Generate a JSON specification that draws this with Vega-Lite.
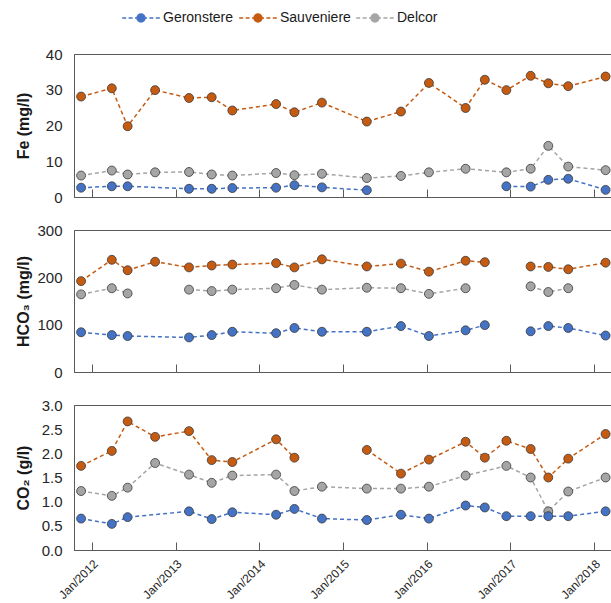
{
  "$schema": "https://vega.github.io/schema/vega-lite/v6.json",
  "padding": {"left": 14, "top": 10, "right": 0, "bottom": 0},
  "config": {
    "font": "Liberation Sans",
    "view": {"stroke": "#595959", "strokeWidth": 1},
    "axis": {"grid": false, "domainColor": "#595959", "tickColor": "#595959", "labelColor": "#262626", "titleColor": "#1a1a1a", "labelFont": "Liberation Sans", "titleFont": "Liberation Sans"}
  },
  "datasets": {
    "obs": [
      {"date": "2011-11-15", "series": "Sauveniere", "param": "Fe", "value": 28.1},
      {"date": "2012-03-28", "series": "Sauveniere", "param": "Fe", "value": 30.4},
      {"date": "2012-06-05", "series": "Sauveniere", "param": "Fe", "value": 19.8},
      {"date": "2012-10-03", "series": "Sauveniere", "param": "Fe", "value": 29.9},
      {"date": "2013-02-28", "series": "Sauveniere", "param": "Fe", "value": 27.7},
      {"date": "2013-06-07", "series": "Sauveniere", "param": "Fe", "value": 27.9},
      {"date": "2013-09-05", "series": "Sauveniere", "param": "Fe", "value": 24.2},
      {"date": "2014-03-15", "series": "Sauveniere", "param": "Fe", "value": 26.0},
      {"date": "2014-06-03", "series": "Sauveniere", "param": "Fe", "value": 23.7},
      {"date": "2014-10-01", "series": "Sauveniere", "param": "Fe", "value": 26.4},
      {"date": "2015-04-15", "series": "Sauveniere", "param": "Fe", "value": 21.1},
      {"date": "2015-09-11", "series": "Sauveniere", "param": "Fe", "value": 23.9},
      {"date": "2016-01-11", "series": "Sauveniere", "param": "Fe", "value": 31.9},
      {"date": "2016-06-19", "series": "Sauveniere", "param": "Fe", "value": 24.9},
      {"date": "2016-09-11", "series": "Sauveniere", "param": "Fe", "value": 32.8},
      {"date": "2016-12-14", "series": "Sauveniere", "param": "Fe", "value": 29.9},
      {"date": "2017-03-30", "series": "Sauveniere", "param": "Fe", "value": 33.9},
      {"date": "2017-06-15", "series": "Sauveniere", "param": "Fe", "value": 31.8},
      {"date": "2017-09-10", "series": "Sauveniere", "param": "Fe", "value": 31.0},
      {"date": "2018-02-20", "series": "Sauveniere", "param": "Fe", "value": 33.7},

      {"date": "2011-11-15", "series": "Delcor", "param": "Fe", "value": 6.0},
      {"date": "2012-03-28", "series": "Delcor", "param": "Fe", "value": 7.4},
      {"date": "2012-06-05", "series": "Delcor", "param": "Fe", "value": 6.3},
      {"date": "2012-10-03", "series": "Delcor", "param": "Fe", "value": 6.9},
      {"date": "2013-02-28", "series": "Delcor", "param": "Fe", "value": 7.0},
      {"date": "2013-06-07", "series": "Delcor", "param": "Fe", "value": 6.3},
      {"date": "2013-09-05", "series": "Delcor", "param": "Fe", "value": 6.0},
      {"date": "2014-03-15", "series": "Delcor", "param": "Fe", "value": 6.7},
      {"date": "2014-06-03", "series": "Delcor", "param": "Fe", "value": 6.1},
      {"date": "2014-10-01", "series": "Delcor", "param": "Fe", "value": 6.5},
      {"date": "2015-04-15", "series": "Delcor", "param": "Fe", "value": 5.3},
      {"date": "2015-09-11", "series": "Delcor", "param": "Fe", "value": 5.9},
      {"date": "2016-01-11", "series": "Delcor", "param": "Fe", "value": 6.9},
      {"date": "2016-06-19", "series": "Delcor", "param": "Fe", "value": 7.9},
      {"date": "2016-12-14", "series": "Delcor", "param": "Fe", "value": 6.9},
      {"date": "2017-03-30", "series": "Delcor", "param": "Fe", "value": 7.9},
      {"date": "2017-06-15", "series": "Delcor", "param": "Fe", "value": 14.3},
      {"date": "2017-09-10", "series": "Delcor", "param": "Fe", "value": 8.5},
      {"date": "2018-02-20", "series": "Delcor", "param": "Fe", "value": 7.5},

      {"date": "2011-11-15", "series": "Geronstere", "param": "Fe", "value": 2.6},
      {"date": "2012-03-28", "series": "Geronstere", "param": "Fe", "value": 3.0},
      {"date": "2012-06-05", "series": "Geronstere", "param": "Fe", "value": 3.0},
      {"date": "2013-02-28", "series": "Geronstere", "param": "Fe", "value": 2.3},
      {"date": "2013-06-07", "series": "Geronstere", "param": "Fe", "value": 2.3},
      {"date": "2013-09-05", "series": "Geronstere", "param": "Fe", "value": 2.5},
      {"date": "2014-03-15", "series": "Geronstere", "param": "Fe", "value": 2.6},
      {"date": "2014-06-03", "series": "Geronstere", "param": "Fe", "value": 3.3},
      {"date": "2014-10-01", "series": "Geronstere", "param": "Fe", "value": 2.7},
      {"date": "2015-04-15", "series": "Geronstere", "param": "Fe", "value": 1.9},
      {"date": "2015-09-11", "series": "Geronstere", "param": "Fe", "value": null},
      {"date": "2016-12-14", "series": "Geronstere", "param": "Fe", "value": 3.0},
      {"date": "2017-03-30", "series": "Geronstere", "param": "Fe", "value": 2.9},
      {"date": "2017-06-15", "series": "Geronstere", "param": "Fe", "value": 4.8},
      {"date": "2017-09-10", "series": "Geronstere", "param": "Fe", "value": 5.1},
      {"date": "2018-02-20", "series": "Geronstere", "param": "Fe", "value": 2.0},

      {"date": "2011-11-15", "series": "Sauveniere", "param": "HCO3", "value": 192},
      {"date": "2012-03-28", "series": "Sauveniere", "param": "HCO3", "value": 237},
      {"date": "2012-06-05", "series": "Sauveniere", "param": "HCO3", "value": 215},
      {"date": "2012-10-03", "series": "Sauveniere", "param": "HCO3", "value": 233},
      {"date": "2013-02-28", "series": "Sauveniere", "param": "HCO3", "value": 221},
      {"date": "2013-06-07", "series": "Sauveniere", "param": "HCO3", "value": 225},
      {"date": "2013-09-05", "series": "Sauveniere", "param": "HCO3", "value": 227},
      {"date": "2014-03-15", "series": "Sauveniere", "param": "HCO3", "value": 230},
      {"date": "2014-06-03", "series": "Sauveniere", "param": "HCO3", "value": 221},
      {"date": "2014-10-01", "series": "Sauveniere", "param": "HCO3", "value": 238},
      {"date": "2015-04-15", "series": "Sauveniere", "param": "HCO3", "value": 223},
      {"date": "2015-09-11", "series": "Sauveniere", "param": "HCO3", "value": 229},
      {"date": "2016-01-11", "series": "Sauveniere", "param": "HCO3", "value": 212},
      {"date": "2016-06-19", "series": "Sauveniere", "param": "HCO3", "value": 235},
      {"date": "2016-09-11", "series": "Sauveniere", "param": "HCO3", "value": 232},
      {"date": "2016-12-14", "series": "Sauveniere", "param": "HCO3", "value": null},
      {"date": "2017-03-30", "series": "Sauveniere", "param": "HCO3", "value": 223},
      {"date": "2017-06-15", "series": "Sauveniere", "param": "HCO3", "value": 222},
      {"date": "2017-09-10", "series": "Sauveniere", "param": "HCO3", "value": 217},
      {"date": "2018-02-20", "series": "Sauveniere", "param": "HCO3", "value": 231},

      {"date": "2011-11-15", "series": "Delcor", "param": "HCO3", "value": 164},
      {"date": "2012-03-28", "series": "Delcor", "param": "HCO3", "value": 177},
      {"date": "2012-06-05", "series": "Delcor", "param": "HCO3", "value": 166},
      {"date": "2012-10-03", "series": "Delcor", "param": "HCO3", "value": null},
      {"date": "2013-02-28", "series": "Delcor", "param": "HCO3", "value": 174},
      {"date": "2013-06-07", "series": "Delcor", "param": "HCO3", "value": 171},
      {"date": "2013-09-05", "series": "Delcor", "param": "HCO3", "value": 174},
      {"date": "2014-03-15", "series": "Delcor", "param": "HCO3", "value": 177},
      {"date": "2014-06-03", "series": "Delcor", "param": "HCO3", "value": 184},
      {"date": "2014-10-01", "series": "Delcor", "param": "HCO3", "value": 174},
      {"date": "2015-04-15", "series": "Delcor", "param": "HCO3", "value": 178},
      {"date": "2015-09-11", "series": "Delcor", "param": "HCO3", "value": 177},
      {"date": "2016-01-11", "series": "Delcor", "param": "HCO3", "value": 165},
      {"date": "2016-06-19", "series": "Delcor", "param": "HCO3", "value": 177},
      {"date": "2016-09-11", "series": "Delcor", "param": "HCO3", "value": null},
      {"date": "2017-03-30", "series": "Delcor", "param": "HCO3", "value": 181},
      {"date": "2017-06-15", "series": "Delcor", "param": "HCO3", "value": 169},
      {"date": "2017-09-10", "series": "Delcor", "param": "HCO3", "value": 177},

      {"date": "2011-11-15", "series": "Geronstere", "param": "HCO3", "value": 84},
      {"date": "2012-03-28", "series": "Geronstere", "param": "HCO3", "value": 78},
      {"date": "2012-06-05", "series": "Geronstere", "param": "HCO3", "value": 76},
      {"date": "2013-02-28", "series": "Geronstere", "param": "HCO3", "value": 73},
      {"date": "2013-06-07", "series": "Geronstere", "param": "HCO3", "value": 78},
      {"date": "2013-09-05", "series": "Geronstere", "param": "HCO3", "value": 85},
      {"date": "2014-03-15", "series": "Geronstere", "param": "HCO3", "value": 82},
      {"date": "2014-06-03", "series": "Geronstere", "param": "HCO3", "value": 93},
      {"date": "2014-10-01", "series": "Geronstere", "param": "HCO3", "value": 85},
      {"date": "2015-04-15", "series": "Geronstere", "param": "HCO3", "value": 85},
      {"date": "2015-09-11", "series": "Geronstere", "param": "HCO3", "value": 97},
      {"date": "2016-01-11", "series": "Geronstere", "param": "HCO3", "value": 76},
      {"date": "2016-06-19", "series": "Geronstere", "param": "HCO3", "value": 88},
      {"date": "2016-09-11", "series": "Geronstere", "param": "HCO3", "value": 99},
      {"date": "2016-12-14", "series": "Geronstere", "param": "HCO3", "value": null},
      {"date": "2017-03-30", "series": "Geronstere", "param": "HCO3", "value": 86},
      {"date": "2017-06-15", "series": "Geronstere", "param": "HCO3", "value": 97},
      {"date": "2017-09-10", "series": "Geronstere", "param": "HCO3", "value": 93},
      {"date": "2018-02-20", "series": "Geronstere", "param": "HCO3", "value": 77},

      {"date": "2011-11-15", "series": "Sauveniere", "param": "CO2", "value": 1.74},
      {"date": "2012-03-28", "series": "Sauveniere", "param": "CO2", "value": 2.05},
      {"date": "2012-06-05", "series": "Sauveniere", "param": "CO2", "value": 2.66},
      {"date": "2012-10-03", "series": "Sauveniere", "param": "CO2", "value": 2.34},
      {"date": "2013-02-28", "series": "Sauveniere", "param": "CO2", "value": 2.46},
      {"date": "2013-06-07", "series": "Sauveniere", "param": "CO2", "value": 1.86},
      {"date": "2013-09-05", "series": "Sauveniere", "param": "CO2", "value": 1.82},
      {"date": "2014-03-15", "series": "Sauveniere", "param": "CO2", "value": 2.29},
      {"date": "2014-06-03", "series": "Sauveniere", "param": "CO2", "value": 1.91},
      {"date": "2014-10-01", "series": "Sauveniere", "param": "CO2", "value": null},
      {"date": "2015-04-15", "series": "Sauveniere", "param": "CO2", "value": 2.07},
      {"date": "2015-09-11", "series": "Sauveniere", "param": "CO2", "value": 1.58},
      {"date": "2016-01-11", "series": "Sauveniere", "param": "CO2", "value": 1.87},
      {"date": "2016-06-19", "series": "Sauveniere", "param": "CO2", "value": 2.24},
      {"date": "2016-09-11", "series": "Sauveniere", "param": "CO2", "value": 1.91},
      {"date": "2016-12-14", "series": "Sauveniere", "param": "CO2", "value": 2.26},
      {"date": "2017-03-30", "series": "Sauveniere", "param": "CO2", "value": 2.09},
      {"date": "2017-06-15", "series": "Sauveniere", "param": "CO2", "value": 1.50},
      {"date": "2017-09-10", "series": "Sauveniere", "param": "CO2", "value": 1.89},
      {"date": "2018-02-20", "series": "Sauveniere", "param": "CO2", "value": 2.40},

      {"date": "2011-11-15", "series": "Delcor", "param": "CO2", "value": 1.22},
      {"date": "2012-03-28", "series": "Delcor", "param": "CO2", "value": 1.12},
      {"date": "2012-06-05", "series": "Delcor", "param": "CO2", "value": 1.29},
      {"date": "2012-10-03", "series": "Delcor", "param": "CO2", "value": 1.80},
      {"date": "2013-02-28", "series": "Delcor", "param": "CO2", "value": 1.56},
      {"date": "2013-06-07", "series": "Delcor", "param": "CO2", "value": 1.39},
      {"date": "2013-09-05", "series": "Delcor", "param": "CO2", "value": 1.54},
      {"date": "2014-03-15", "series": "Delcor", "param": "CO2", "value": 1.56},
      {"date": "2014-06-03", "series": "Delcor", "param": "CO2", "value": 1.22},
      {"date": "2014-10-01", "series": "Delcor", "param": "CO2", "value": 1.31},
      {"date": "2015-04-15", "series": "Delcor", "param": "CO2", "value": 1.27},
      {"date": "2015-09-11", "series": "Delcor", "param": "CO2", "value": 1.27},
      {"date": "2016-01-11", "series": "Delcor", "param": "CO2", "value": 1.31},
      {"date": "2016-06-19", "series": "Delcor", "param": "CO2", "value": 1.54},
      {"date": "2016-12-14", "series": "Delcor", "param": "CO2", "value": 1.74},
      {"date": "2017-03-30", "series": "Delcor", "param": "CO2", "value": 1.50},
      {"date": "2017-06-15", "series": "Delcor", "param": "CO2", "value": 0.80},
      {"date": "2017-09-10", "series": "Delcor", "param": "CO2", "value": 1.21},
      {"date": "2018-02-20", "series": "Delcor", "param": "CO2", "value": 1.50},

      {"date": "2011-11-15", "series": "Geronstere", "param": "CO2", "value": 0.65},
      {"date": "2012-03-28", "series": "Geronstere", "param": "CO2", "value": 0.54},
      {"date": "2012-06-05", "series": "Geronstere", "param": "CO2", "value": 0.68},
      {"date": "2013-02-28", "series": "Geronstere", "param": "CO2", "value": 0.80},
      {"date": "2013-06-07", "series": "Geronstere", "param": "CO2", "value": 0.64},
      {"date": "2013-09-05", "series": "Geronstere", "param": "CO2", "value": 0.78},
      {"date": "2014-03-15", "series": "Geronstere", "param": "CO2", "value": 0.73},
      {"date": "2014-06-03", "series": "Geronstere", "param": "CO2", "value": 0.85},
      {"date": "2014-10-01", "series": "Geronstere", "param": "CO2", "value": 0.65},
      {"date": "2015-04-15", "series": "Geronstere", "param": "CO2", "value": 0.62},
      {"date": "2015-09-11", "series": "Geronstere", "param": "CO2", "value": 0.73},
      {"date": "2016-01-11", "series": "Geronstere", "param": "CO2", "value": 0.65},
      {"date": "2016-06-19", "series": "Geronstere", "param": "CO2", "value": 0.92},
      {"date": "2016-09-11", "series": "Geronstere", "param": "CO2", "value": 0.88},
      {"date": "2016-12-14", "series": "Geronstere", "param": "CO2", "value": 0.70},
      {"date": "2017-03-30", "series": "Geronstere", "param": "CO2", "value": 0.70},
      {"date": "2017-06-15", "series": "Geronstere", "param": "CO2", "value": 0.70},
      {"date": "2017-09-10", "series": "Geronstere", "param": "CO2", "value": 0.70},
      {"date": "2018-02-20", "series": "Geronstere", "param": "CO2", "value": 0.80}
    ]
  },
  "data": {"name": "obs"},
  "spacing": 16,
  "resolve": {"scale": {"color": "independent"}, "legend": {"color": "independent"}},
  "vconcat": [
    {
      "width": 538, "height": 143,
      "transform": [{"filter": "datum.param === 'Fe'"}],
      "encoding": {
        "x": {"field": "date", "type": "temporal", "scale": {"domain": ["2011-10-15", "2018-03-20"]},
              "axis": {"title": null, "labels": false, "tickCount": {"interval": "year", "step": 1}, "tickSize": -8}},
        "y": {"field": "value", "type": "quantitative", "scale": {"domain": [0, 40]},
              "axis": {"title": "Fe (mg/l)", "values": [0, 10, 20, 30, 40], "ticks": false, "labelPadding": 12, "labelFontSize": 15, "titleFontSize": 16, "titleFontWeight": "bold", "titlePadding": 5, "minExtent": 38, "maxExtent": 38}},
        "color": {"field": "series", "type": "nominal",
                  "scale": {"domain": ["Geronstere", "Sauveniere", "Delcor"], "range": ["#4472C4", "#C55A11", "#A5A5A5"]},
                  "legend": {"orient": "none", "legendX": 60, "legendY": -43, "direction": "horizontal", "title": null, "gridAlign": "all",
                             "symbolType": "M-4.7,0H-3.7M-3.1,0H-2.1M-1.5,0H-1M1,0H1.5M2.1,0H3.1M3.7,0H4.7M-1,0A1,1 0 1,0 1,0A1,1 0 1,0 -1,0",
                             "symbolSize": 64, "symbolStrokeWidth": 1.5, "labelOffset": 15, "columnPadding": 2,
                             "labelFontSize": 14, "labelColor": "#1a1a1a", "labelFont": "Liberation Sans", "padding": 0,
                             "encode": {"symbols": {"update": {
                               "fill": [{"test": "datum.value === 'Geronstere'", "value": "#4472C4"}, {"test": "datum.value === 'Sauveniere'", "value": "#C55A11"}, {"value": "#A5A5A5"}],
                               "stroke": [{"test": "datum.value === 'Geronstere'", "value": "#4472C4"}, {"test": "datum.value === 'Sauveniere'", "value": "#C55A11"}, {"value": "#A5A5A5"}],
                               "opacity": {"value": 1}}}}}}
      },
      "layer": [
        {"mark": {"type": "line", "strokeDash": [4, 3], "strokeWidth": 1.5, "invalid": "break-paths-filter-domains"}},
        {"mark": {"type": "point", "filled": true, "size": 80, "opacity": 1, "stroke": "#3a3a3a", "strokeWidth": 0.8}}
      ]
    },
    {
      "width": 538, "height": 142,
      "transform": [{"filter": "datum.param === 'HCO3'"}],
      "encoding": {
        "x": {"field": "date", "type": "temporal", "scale": {"domain": ["2011-10-15", "2018-03-20"]},
              "axis": {"title": null, "labels": false, "tickCount": {"interval": "year", "step": 1}, "tickSize": -8}},
        "y": {"field": "value", "type": "quantitative", "scale": {"domain": [0, 300]},
              "axis": {"title": "HCO₃ (mg/l)", "values": [0, 100, 200, 300], "ticks": false, "labelPadding": 12, "labelFontSize": 15, "titleFontSize": 16, "titleFontWeight": "bold", "titlePadding": 5, "minExtent": 38, "maxExtent": 38}},
        "color": {"field": "series", "type": "nominal",
                  "scale": {"domain": ["Geronstere", "Sauveniere", "Delcor"], "range": ["#4472C4", "#C55A11", "#A5A5A5"]},
                  "legend": null}
      },
      "layer": [
        {"mark": {"type": "line", "strokeDash": [4, 3], "strokeWidth": 1.5, "invalid": "break-paths-filter-domains"}},
        {"mark": {"type": "point", "filled": true, "size": 80, "opacity": 1, "stroke": "#3a3a3a", "strokeWidth": 0.8}}
      ]
    },
    {
      "width": 538, "height": 145,
      "transform": [{"filter": "datum.param === 'CO2'"}],
      "encoding": {
        "x": {"field": "date", "type": "temporal", "scale": {"domain": ["2011-10-15", "2018-03-20"]},
              "axis": {"title": null, "format": "%b/%Y", "labelAngle": -45, "labelFontSize": 12, "tickCount": {"interval": "year", "step": 1}, "tickSize": -8, "labelPadding": 16}},
        "y": {"field": "value", "type": "quantitative", "scale": {"domain": [0, 3]},
              "axis": {"title": "CO₂ (g/l)", "values": [0, 0.5, 1, 1.5, 2, 2.5, 3], "format": ".1f", "ticks": false, "labelPadding": 12, "labelFontSize": 15, "titleFontSize": 16, "titleFontWeight": "bold", "titlePadding": 5, "minExtent": 38, "maxExtent": 38}},
        "color": {"field": "series", "type": "nominal",
                  "scale": {"domain": ["Geronstere", "Sauveniere", "Delcor"], "range": ["#4472C4", "#C55A11", "#A5A5A5"]},
                  "legend": null}
      },
      "layer": [
        {"mark": {"type": "line", "strokeDash": [4, 3], "strokeWidth": 1.5, "invalid": "break-paths-filter-domains"}},
        {"mark": {"type": "point", "filled": true, "size": 80, "opacity": 1, "stroke": "#3a3a3a", "strokeWidth": 0.8}}
      ]
    }
  ]
}
